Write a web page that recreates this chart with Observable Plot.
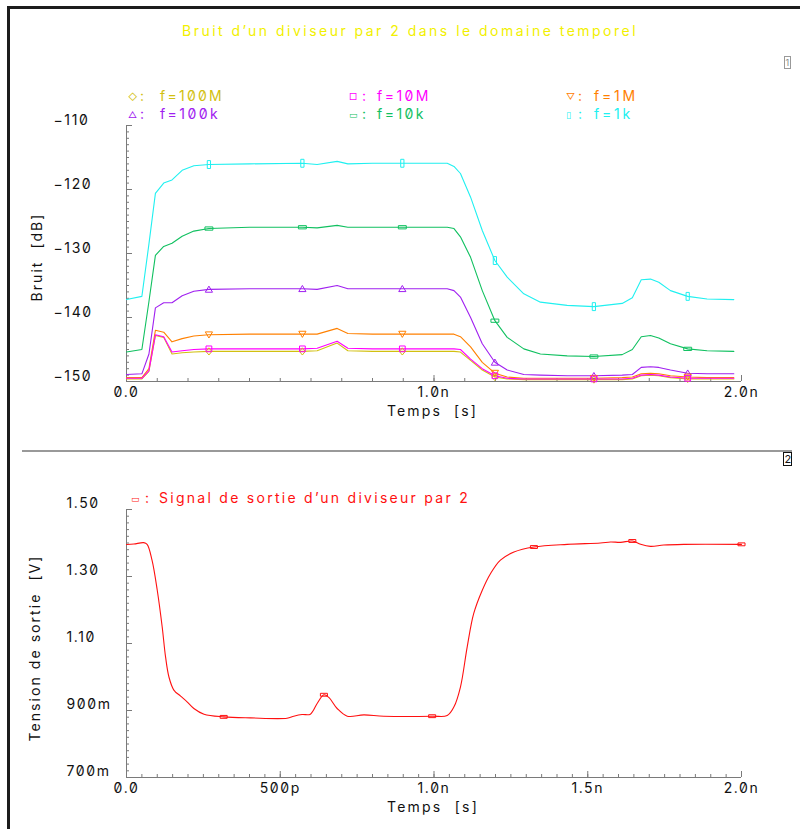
<!DOCTYPE html>
<html>
<head>
<meta charset="utf-8">
<script src="https://cdn.jsdelivr.net/npm/d3@7"></script>
<script src="https://cdn.jsdelivr.net/npm/@observablehq/plot@0.6"></script>
<style>
  html, body { margin: 0; padding: 0; background: #fff; }
  #root { position: relative; width: 800px; height: 829px; overflow: hidden; background: #fff; }
  .t { position: absolute; font-family: Inter, "DejaVu Sans", sans-serif; font-size: 14px; line-height: 14px;
       white-space: pre; font-variant-numeric: slashed-zero; font-feature-settings: "zero" 1; }
  .panel { position: absolute; left: 0; }
</style>
</head>
<body>
<div id="root"></div>
<script>
// ---------------- DATA ----------------
const title = "Bruit d’un diviseur par 2 dans le domaine temporel";
const xLabel = "Temps  [s]";
const yLabelTop = "Bruit  [dB]";
const yLabelBottom = "Tension de sortie  [V]";
const legendBottom = "Signal de sortie d’un diviseur par 2";

const seriesNames = ["f=100M", "f=10M", "f=1M", "f=100k", "f=10k", "f=1k"];

// time grid (ns) for the noise curves
const tTop = [0, 0.05, 0.073, 0.094, 0.121, 0.148, 0.181, 0.219, 0.268, 0.40, 0.572, 0.62, 0.685, 0.72, 0.80, 0.897,
  1.043, 1.065, 1.086, 1.119, 1.157, 1.198, 1.238, 1.292, 1.346, 1.433, 1.52, 1.612, 1.645, 1.674, 1.704, 1.731,
  1.769, 1.825, 1.888, 1.975];
const noise100M = [-149.6,-149.6,-148.4,-142.8,-143.1,-145.7,-145.5,-145.4,-145.3,-145.3,-145.3,-145.2,-144.0,-145.2,-145.3,-145.3,
  -145.3,-145.3,-145.4,-146.7,-148.2,-149.3,-149.6,-149.7,-149.7,-149.7,-149.7,-149.7,-149.6,-149.1,-149.0,-149.1,-149.4,-149.6,-149.6,-149.6];
const noise10M = [-149.5,-149.5,-148.3,-142.7,-143.0,-145.4,-145.2,-145.0,-144.9,-144.9,-144.9,-144.8,-143.7,-144.8,-144.9,-144.9,
  -144.9,-144.9,-145.0,-146.5,-148.0,-149.1,-149.5,-149.6,-149.6,-149.6,-149.6,-149.6,-149.5,-149.0,-148.9,-149.0,-149.3,-149.5,-149.5,-149.5];
const noise1M = [-149.4,-149.4,-148.0,-142.0,-142.3,-143.8,-143.3,-142.9,-142.7,-142.6,-142.6,-142.6,-141.7,-142.5,-142.6,-142.6,
  -142.6,-142.6,-143.0,-144.6,-147.0,-148.7,-149.3,-149.5,-149.5,-149.5,-149.5,-149.4,-149.3,-148.8,-148.7,-148.8,-149.1,-149.3,-149.4,-149.4];
const noise100k = [-148.9,-148.8,-145.7,-138.5,-137.7,-137.7,-136.6,-135.9,-135.6,-135.5,-135.5,-135.6,-135.0,-135.5,-135.5,-135.5,
  -135.5,-135.8,-136.8,-140.0,-144.1,-147.0,-148.2,-148.9,-149.0,-149.1,-149.1,-149.0,-148.9,-147.8,-147.7,-147.8,-148.2,-148.7,-148.8,-148.8];
const noise10k = [-145.4,-145.0,-137.5,-130.3,-128.9,-128.4,-127.3,-126.5,-126.1,-125.9,-125.9,-126.0,-125.6,-125.9,-125.9,-125.9,
  -125.9,-126.1,-127.4,-130.6,-135.8,-140.5,-143.1,-144.9,-145.7,-146.0,-146.1,-145.8,-145.0,-143.0,-142.8,-143.2,-144.1,-144.9,-145.2,-145.3];
const noise1k = [-137.2,-136.7,-128.5,-120.6,-119.0,-118.5,-117.0,-116.3,-116.1,-116.0,-115.9,-116.1,-115.6,-116.0,-115.9,-115.9,
  -115.9,-116.4,-117.5,-121.2,-126.4,-131.1,-133.7,-136.3,-137.6,-138.1,-138.3,-137.8,-136.9,-134.1,-134.0,-134.5,-135.8,-136.7,-137.1,-137.2];
const markerTimesTop = [0.268, 0.572, 0.897, 1.198, 1.52, 1.825];

// output signal
const tBottom = [0,0.024,0.056,0.067,0.083,0.1,0.116,0.127,0.138,0.154,0.176,0.197,0.219,0.252,0.316,0.403,0.522,0.544,0.571,0.598,
  0.620,0.642,0.658,0.685,0.718,0.772,0.837,0.994,1.043,1.065,1.086,1.108,1.129,1.157,1.184,1.216,1.260,1.325,1.433,1.541,1.574,
  1.607,1.645,1.672,1.704,1.747,1.812,2.0];
const vOut = [1.3955,1.397,1.401,1.396,1.349,1.259,1.150,1.060,1.000,0.961,0.943,0.926,0.906,0.889,0.881,0.878,0.877,0.883,0.888,0.889,
  0.921,0.947,0.939,0.906,0.883,0.887,0.883,0.883,0.885,0.911,0.970,1.090,1.189,1.259,1.309,1.349,1.373,1.388,1.396,1.400,1.403,
  1.402,1.406,1.396,1.390,1.394,1.396,1.396];
const markerTimesBottom = [0.316, 0.642, 0.994, 1.325, 1.645, 2.0];

// tick labels
const xTicksTop = [0, 1, 2];
const xTickLabelsTop = ["0.0", "1.0n", "2.0n"];
const yTicksTop = [-110, -120, -130, -140, -150];
const yTickLabelsTop = ["−110", "−120", "−130", "−140", "−150"];
const xTicksBottom = [0, 0.5, 1, 1.5, 2];
const xTickLabelsBottom = ["0.0", "500p", "1.0n", "1.5n", "2.0n"];
const yTicksBottom = [1.5, 1.3, 1.1, 0.9, 0.7];
const yTickLabelsBottom = ["1.50", "1.30", "1.10", "900m", "700m"];

// ---------------- STYLE ----------------
const seriesValues = [noise100M, noise10M, noise1M, noise100k, noise10k, noise1k];
const colors = ["#d2c010", "#ff00ff", "#ff8000", "#a020f0", "#10c060", "#20f0f0"];
const legendSymbols = ["◇", "□", "▽", "△", "▭", "▯"];

function sym(drawFn) { return { draw(ctx, size) { drawFn(ctx, Math.sqrt(size / Math.PI)); } }; }
const symDiamond = sym((c, r) => { c.moveTo(0, -r); c.lineTo(r * 0.8, 0); c.lineTo(0, r); c.lineTo(-r * 0.8, 0); c.closePath(); });
const symSquare = sym((c, r) => { c.rect(-r * 0.8, -r * 0.8, r * 1.6, r * 1.6); });
const symDown = sym((c, r) => { c.moveTo(-r, -r * 0.8); c.lineTo(r, -r * 0.8); c.lineTo(0, r * 0.9); c.closePath(); });
const symUp = sym((c, r) => { c.moveTo(-r, r * 0.8); c.lineTo(r, r * 0.8); c.lineTo(0, -r * 0.9); c.closePath(); });
const symHBar = sym((c, r) => { c.rect(-r * 1.1, -r * 0.45, r * 2.2, r * 0.9); });
const symVBar = sym((c, r) => { c.rect(-r * 0.45, -r * 1.1, r * 0.9, r * 2.2); });
const symbols = [symDiamond, symSquare, symDown, symUp, symHBar, symVBar];

const FONT = 'Inter, "DejaVu Sans", sans-serif';
const svgStyle = `background:transparent;font-family:${FONT};font-size:14px;letter-spacing:1.6px;` +
  `font-variant-numeric:slashed-zero;font-feature-settings:"zero" 1;overflow:visible;color:#000`;
const axisColor = "#7a7a7a";

// ---------------- BUILD ----------------
const root = document.getElementById("root");

// rows for top lines
const topRows = [];
seriesNames.forEach((name, i) => {
  tTop.forEach((t, j) => topRows.push({ series: i, name, t, v: seriesValues[i][j] }));
});
const topMarkers = topRows.filter(d => markerTimesTop.includes(d.t));

// top panel geometry
const W = 800, topH = 440, topM = { t: 125, b: 59, l: 126, r: 59 };
const topFrameH = topH - topM.t - topM.b, frameW = W - topM.l - topM.r;

const drawOrder = [5, 4, 3, 2, 0, 1];
const topMarks = [
  Plot.tickX(d3.range(0, 2.0001, 0.1), { x: d => d, stroke: axisColor, insetTop: topFrameH - 3 }),
  Plot.tickX(xTicksTop, { x: d => d, stroke: axisColor, insetTop: topFrameH - 6 }),
  Plot.tickY(d3.range(-150, -109.99, 1), { y: d => d, stroke: axisColor, insetRight: frameW - 3 }),
  Plot.tickY(yTicksTop, { y: d => d, stroke: axisColor, insetRight: frameW - 6 }),
  Plot.ruleX([0], { stroke: axisColor }),
  Plot.ruleY([-150], { stroke: axisColor }),
  Plot.text(xTicksTop, { x: d => d, text: (d, i) => xTickLabelsTop[i], frameAnchor: "bottom", lineAnchor: "top", dy: 6, fill: "#111" }),
  Plot.text(yTicksTop, { y: d => d, text: (d, i) => yTickLabelsTop[i], frameAnchor: "left", textAnchor: "start", dx: -73, dy: -5, fill: "#111" }),
];
drawOrder.forEach(i => {
  topMarks.push(Plot.line(topRows.filter(d => d.series === i), { x: "t", y: "v", stroke: colors[i], strokeWidth: 1.1 }));
});
drawOrder.forEach(i => {
  topMarks.push(Plot.dot(topMarkers.filter(d => d.series === i), {
    x: "t", y: "v", r: 3.6, symbol: symbols[i], stroke: colors[i], strokeWidth: 1, fill: "none"
  }));
});

const topPlot = Plot.plot({
  width: W, height: topH, marginTop: topM.t, marginBottom: topM.b, marginLeft: topM.l, marginRight: topM.r,
  x: { domain: [0, 2], axis: null }, y: { domain: [-150, -110], axis: null },
  style: svgStyle, marks: topMarks
});
topPlot.classList.add("panel");
topPlot.style.top = "0px";
root.appendChild(topPlot);

// bottom panel
const botTop = 440, botH = 389, botM = { t: 69, b: 52, l: 126, r: 59 };
const botFrameH = botH - botM.t - botM.b;
const botRows = tBottom.map((t, j) => ({ t, v: vOut[j] }));
const botMarkers = botRows.filter(d => markerTimesBottom.includes(d.t));
const botPlot = Plot.plot({
  width: W, height: botH, marginTop: botM.t, marginBottom: botM.b, marginLeft: botM.l, marginRight: botM.r,
  x: { domain: [0, 2], axis: null }, y: { domain: [0.7, 1.5], axis: null },
  style: svgStyle,
  marks: [
    Plot.tickX(d3.range(0, 2.0001, 0.05), { x: d => d, stroke: axisColor, insetTop: botFrameH - 3 }),
    Plot.tickX(xTicksBottom, { x: d => d, stroke: axisColor, insetTop: botFrameH - 6 }),
    Plot.tickY(d3.range(0.7, 1.5001, 0.02), { y: d => d, stroke: axisColor, insetRight: frameW - 3 }),
    Plot.tickY(yTicksBottom, { y: d => d, stroke: axisColor, insetRight: frameW - 6 }),
    Plot.ruleX([0], { stroke: axisColor }),
    Plot.ruleY([0.7], { stroke: axisColor }),
    Plot.text(xTicksBottom, { x: d => d, text: (d, i) => xTickLabelsBottom[i], frameAnchor: "bottom", lineAnchor: "top", dy: 6, fill: "#111" }),
    Plot.text(yTicksBottom, { y: d => d, text: (d, i) => yTickLabelsBottom[i], frameAnchor: "left", textAnchor: "start", dx: -60, dy: -6, fill: "#111" }),
    Plot.line(botRows, { x: "t", y: "v", stroke: "#ff1010", strokeWidth: 1.1, curve: "catmull-rom" }),
    Plot.dot(botMarkers, { x: "t", y: "v", r: 3.2, symbol: symHBar, fill: "none", stroke: "#ff1010", strokeWidth: 1 })
  ]
});
botPlot.classList.add("panel");
botPlot.style.top = botTop + "px";
root.appendChild(botPlot);

// ---------------- OVERLAY TEXT ----------------
function addText(txt, x, cy, color, width, opts = {}) {
  const el = document.createElement("div");
  el.className = "t";
  el.textContent = txt;
  el.style.color = color;
  if (opts.size) { el.style.fontSize = opts.size + "px"; el.style.lineHeight = opts.size + "px"; }
  root.appendChild(el);
  if (width) {
    el.style.letterSpacing = "0px";
    const w0 = el.getBoundingClientRect().width;
    const n = txt.length;
    el.style.letterSpacing = ((width - w0) / n) + "px";
  }
  const r = el.getBoundingClientRect();
  if (opts.rotate) {
    el.style.left = (x - r.width / 2) + "px";
    el.style.top = (cy - r.height / 2) + "px";
    el.style.transform = "rotate(-90deg)";
  } else {
    el.style.left = x + "px";
    el.style.top = (cy - r.height / 2) + "px";
  }
  return el;
}

addText(title, 182, 31, "#f2f000", 456);

// legend (top)
const legendX = [[128, 140, 160], [349, 362, 377], [566, 578, 594]];
const legendY = [96, 114];
const legendW = [64, 54, 44, 60, 49, 39];
seriesNames.forEach((name, i) => {
  const col = i % 3, row = Math.floor(i / 3);
  const cy = legendY[row];
  addText(legendSymbols[i], legendX[col][0], cy, colors[i], null, { size: 9 });
  addText(":", legendX[col][1], cy, colors[i], null);
  addText(name, legendX[col][2], cy, colors[i], legendW[i]);
});

// legend (bottom)
addText("▭", 131, 498, "#ff1010", null, { size: 9 });
addText(":", 145, 498, "#ff1010", null);
addText(legendBottom, 159, 498, "#ff1010", 311);

// axis titles
addText(xLabel, 387, 411, "#111", 91);
addText(xLabel, 387, 807, "#111", 92);
addText(yLabelTop, 36, 257, "#111", 89, { rotate: true });
addText(yLabelBottom, 34, 648, "#111", 187, { rotate: true });

// frame and separator
function box(css) { const d = document.createElement("div"); d.style.position = "absolute"; Object.assign(d.style, css); root.appendChild(d); return d; }
box({ left: "7px", top: "6px", width: "793px", height: "3px", background: "#1c1c1c" });
box({ left: "7px", top: "6px", width: "3px", height: "823px", background: "#1c1c1c" });
box({ left: "22px", top: "450px", width: "770px", height: "1.5px", background: "#999" });
box({ left: "784px", top: "56px", width: "7px", height: "13px", border: "1px solid #999", boxSizing: "border-box" });
box({ left: "783px", top: "452px", width: "9px", height: "14px", border: "1px solid #111", boxSizing: "border-box" });
addText("1", 785.5, 62, "#888", null, { size: 9 });
addText("2", 784.5, 459, "#111", null, { size: 11 });
</script>
</body>
</html>
